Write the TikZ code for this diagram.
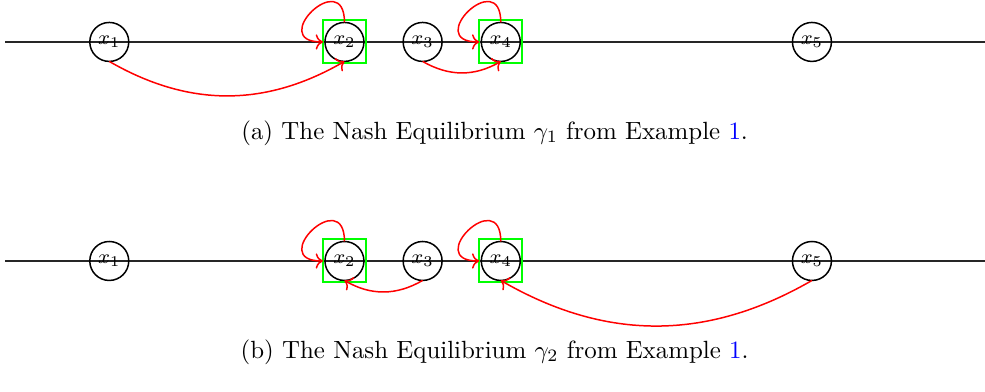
\documentclass[tikz,border=0pt]{standalone}
\usepackage{tikz}
\usetikzlibrary{positioning}
\usetikzlibrary{arrows.meta}
\definecolor{figRojo}{RGB}{255,0,0}
\definecolor{figVerde}{RGB}{0,255,0}
\definecolor{figAzulEnlace}{RGB}{0,0,255}
\tikzset{
  estado/.style={
    circle, draw=black, line width=0.6pt, minimum size=0.55cm,
    inner sep=0pt, outer sep=0pt, font=\footnotesize
  },
  marco/.style={
    rectangle, draw=figVerde, line width=0.8pt, minimum size=0.607cm,
    inner sep=0pt, outer sep=0pt
  },
  flecha/.style={->, line width=0.6pt, draw=figRojo},
  bucle/.style={flecha, out=90, in=180, looseness=5},
  eje/.style={line width=0.5pt, draw=black!85}
}
\begin{document}
\begin{tikzpicture}[node distance=0.553cm]
  \useasboundingbox (0,0) rectangle (13.90,5.531);
  % ejes
  \coordinate (izqA) at (0.071,4.939);
  \coordinate (derA) at (13.90,4.939);
  \coordinate (izqB) at (0.071,1.848);
  \coordinate (derB) at (13.90,1.848);
  \draw[eje] (izqA) -- (derA);
  \draw[eje] (izqB) -- (derB);

  % (a) equilibrio gamma_1
  \node[estado] (a1) at (1.542,4.939) {$x_1$};
  \node[estado, right=2.769cm of a1] (a2) {$x_2$};
  \node[estado, right=of a2] (a3) {$x_3$};
  \node[estado, right=of a3] (a4) {$x_4$};
  \node[estado, right=3.841cm of a4] (a5) {$x_5$};
  \node[marco] (ma2) at (a2) {};
  \node[marco] (ma4) at (a4) {};
  \draw[flecha] (a1.south) to[bend right=30] (a2.south);
  \draw[flecha] (a3.south) to[bend right=30] (a4.south);
  \draw[bucle] (a2.north) to (ma2.west);
  \draw[bucle] (a4.north) to (ma4.west);
  \node (capA) at (6.98,3.654) {(a) The Nash Equilibrium $\gamma_1$ from Example \textcolor{figAzulEnlace}{1}.};

  % (b) equilibrio gamma_2
  \node[estado, below=2.541cm of a1] (b1) {$x_1$};
  \node[estado, right=2.769cm of b1] (b2) {$x_2$};
  \node[estado, right=of b2] (b3) {$x_3$};
  \node[estado, right=of b3] (b4) {$x_4$};
  \node[estado, right=3.841cm of b4] (b5) {$x_5$};
  \node[marco] (mb2) at (b2) {};
  \node[marco] (mb4) at (b4) {};
  \draw[flecha] (b3.south) to[bend left=30] (b2.south);
  \draw[flecha] (b5.south) to[bend left=30] (b4.south);
  \draw[bucle] (b2.north) to (mb2.west);
  \draw[bucle] (b4.north) to (mb4.west);
  \node (capB) at (6.98,0.564) {(b) The Nash Equilibrium $\gamma_2$ from Example \textcolor{figAzulEnlace}{1}.};
\end{tikzpicture}
\end{document}
